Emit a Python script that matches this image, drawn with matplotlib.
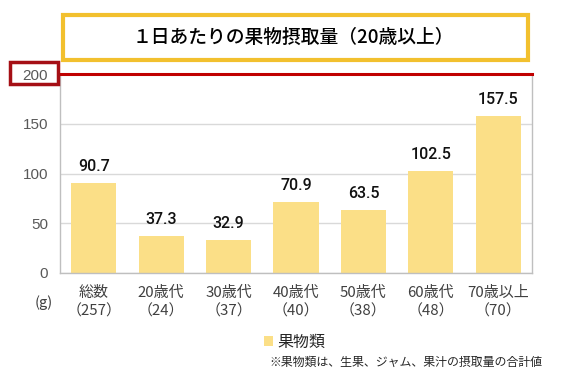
import matplotlib
matplotlib.use("Agg")
import matplotlib.pyplot as plt
from matplotlib.patches import Rectangle

plt.rcParams['font.family'] = ['Noto Sans CJK JP', 'DejaVu Sans']

title = "１日あたりの果物摂取量（20歳以上）"
categories = ['総数', '20歳代', '30歳代', '40歳代', '50歳代', '60歳代', '70歳以上']
counts = ['257', '24', '37', '40', '38', '48', '70']
values = [90.7, 37.3, 32.9, 70.9, 63.5, 102.5, 157.5]
yticks = [0, 50, 100, 150, 200]
series_name = '果物類'
unit = '(g)'
note = '※果物類は、生果、ジャム、果汁の摂取量の合計値'

W, H = 565, 380
fig = plt.figure(figsize=(W / 100, H / 100), dpi=100)
fig.patch.set_facecolor('white')


def fx(x):
    return x / W


def fy(y):
    return 1 - y / H


L, R, T, B = 60, 532, 74, 273
ax = fig.add_axes([fx(L), fy(B), (R - L) / W, (B - T) / H])

bar_color = '#FBDF87'
x = list(range(len(categories)))
bars = ax.bar(x, values, width=0.67, color=bar_color, label=series_name, zorder=2)
for xi, v in zip(x, values):
    ax.annotate(f"{v}", (xi, v), xytext=(0, 6.5), textcoords='offset points',
                ha='center', va='bottom', fontsize=11.5, family='Roboto',
                fontweight='medium', color='#111111', zorder=3)

ax.set_xlim(-0.5, len(categories) - 0.5)
ax.set_ylim(0, 200)
ax.set_yticks(yticks)
ax.set_yticklabels([str(t) for t in yticks])
ax.set_xticks(x)
ax.set_xticklabels([f"{c}\n（{n}）" for c, n in zip(categories, counts)], linespacing=1.45)
ax.tick_params(axis='y', length=0, pad=8.5, labelsize=11, labelcolor='#595959')
ax.tick_params(axis='x', length=0, pad=9, labelsize=10.8, labelcolor='#404040')
for lab in ax.get_yticklabels():
    lab.set_family(['Liberation Sans', 'DejaVu Sans'])

ax.grid(axis='y', color='#D9D9D9', linewidth=1, zorder=0)
ax.set_axisbelow(True)
for s in ['left', 'right', 'bottom']:
    ax.spines[s].set_color('#BFBFBF')
    ax.spines[s].set_linewidth(1)
ax.spines['top'].set_visible(False)

# red line at 200
ax.axhline(200, color='#C00000', linewidth=2.2, zorder=4, clip_on=False)

# title box
fig.patches.append(Rectangle((fx(63), fy(60)), (528 - 63) / W, (60 - 15) / H,
                             transform=fig.transFigure, fill=False,
                             edgecolor='#F2C02E', linewidth=3))
fig.text(fx(293), fy(37), title, ha='center', va='center', fontsize=13.5,
         fontweight='medium', color='#000000')

# red box around 200
fig.patches.append(Rectangle((fx(10), fy(84)), (58 - 10) / W, (84 - 62) / H,
                             transform=fig.transFigure, fill=False,
                             edgecolor='#A50F15', linewidth=2.5))

fig.text(fx(44), fy(303), unit, ha='center', va='center', fontsize=10.5,
         color='#404040')

leg = fig.legend(handles=[bars], labels=[series_name], loc='center left',
                 bbox_to_anchor=(fx(264), fy(342)), frameon=False,
                 fontsize=11.5, handlelength=0.55, handleheight=0.55,
                 handletextpad=0.3, borderpad=0, borderaxespad=0)
for t in leg.get_texts():
    t.set_color('#262626')

fig.text(fx(269), fy(362), note, ha='left', va='center', fontsize=8.6,
         color='#262626')

fig.savefig('out.png', dpi=100)
